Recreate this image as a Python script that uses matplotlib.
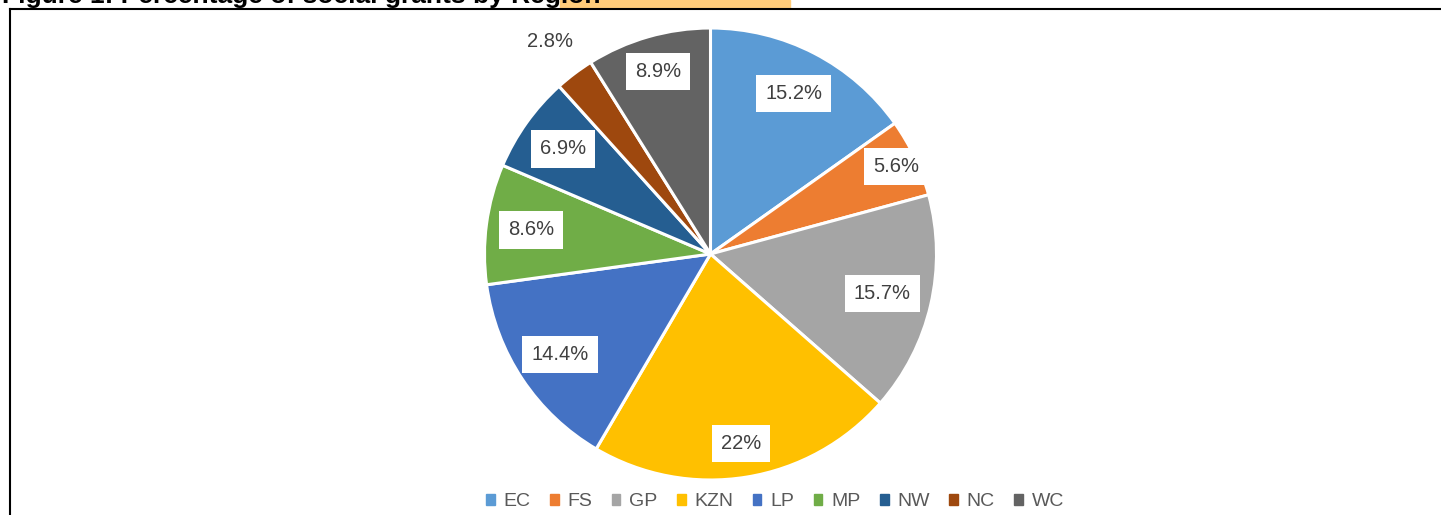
import numpy as np
import matplotlib.pyplot as plt
from matplotlib.patches import Rectangle
from matplotlib.lines import Line2D

plt.rcParams['font.family'] = ['Liberation Sans', 'DejaVu Sans']

regions = ['EC', 'FS', 'GP', 'KZN', 'LP', 'MP', 'NW', 'NC', 'WC']
shares = [15.2, 5.6, 15.7, 22, 14.4, 8.6, 6.9, 2.8, 8.9]
share_labels = ['15.2%', '5.6%', '15.7%', '22%', '14.4%', '8.6%', '6.9%', '2.8%', '8.9%']
colors = ['#5B9BD5', '#ED7D31', '#A5A5A5', '#FFC000', '#4472C4',
          '#70AD47', '#255E91', '#9E480E', '#636363']
# how far out each label sits (fraction of the radius), like Excel's best fit
label_r = [0.80, 0.91, 0.78, 0.85, 0.80, 0.80, 0.80, 1.18, 0.84]

W, H = 1441, 515
fig = plt.figure(figsize=(W / 100, H / 100), dpi=100)

# orange watermark peeking in behind the cut-off title
fig.patches.append(Rectangle((560 / W, 1 - 8 / H), 230 / W, 8 / H,
                             transform=fig.transFigure, color='#FFCC7A', zorder=0))
fig.text(2 / W, 1 - 3 / H, 'Figure 1: Percentage of social grants by Region',
         fontsize=19, fontweight='bold', color='black', va='baseline', ha='left')

# frame around the chart (right and bottom edges are cropped)
fig.lines.append(Line2D([9.5 / W, 9.5 / W], [0, 1 - 8.5 / H], transform=fig.transFigure,
                        color='black', lw=1.5))
fig.lines.append(Line2D([9.5 / W, 1], [1 - 8.5 / H, 1 - 8.5 / H], transform=fig.transFigure,
                        color='black', lw=1.5))

R = 226
cx, cy = 710.5, 254
ax = fig.add_axes([(cx - R) / W, (H - cy - R) / H, 2 * R / W, 2 * R / H])
wedges, _ = ax.pie(shares, colors=colors, startangle=90, counterclock=False,
                   radius=1, wedgeprops=dict(edgecolor='white', linewidth=2.2))
ax.set_xlim(-1, 1)
ax.set_ylim(-1, 1)
ax.set_aspect('equal')
ax.axis('off')

total = sum(shares)
start = 90.0
for val, lab, r in zip(shares, share_labels, label_r):
    mid = np.deg2rad(start - val / total * 360 / 2)
    start -= val / total * 360
    x, y = r * np.cos(mid), r * np.sin(mid)
    box = None if r > 1 else dict(boxstyle='square,pad=0.45', fc='white', ec='none')
    ax.text(x, y, lab, ha='center', va='center', fontsize=14.5, color='#404040',
            bbox=box, clip_on=False)

handles = [Rectangle((0, 0), 1, 1, color=c) for c in colors]
fig.legend(handles, regions, loc='center', bbox_to_anchor=(775 / W, 1 - 502 / H),
           ncol=len(regions), frameon=False, fontsize=14, handlelength=0.45,
           handleheight=0.45, handletextpad=0.45, columnspacing=1.0,
           labelcolor='#595959')

fig.savefig('out.png', dpi=100, facecolor='white')
